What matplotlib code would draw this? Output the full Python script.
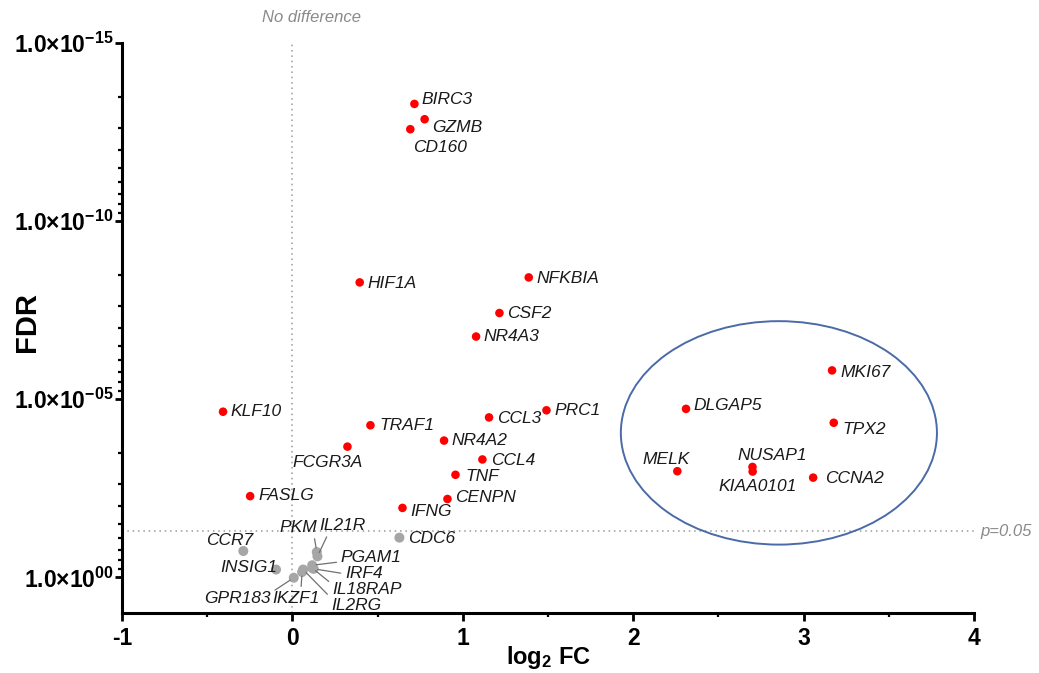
import matplotlib

matplotlib.use("Agg")
import matplotlib.pyplot as plt
import matplotlib.transforms as mtransforms
import numpy as np
from matplotlib.patches import Ellipse
from matplotlib.ticker import FixedLocator, NullFormatter

plt.rcParams["font.family"] = ["Liberation Sans", "DejaVu Sans"]
plt.rcParams["mathtext.fontset"] = "custom"
plt.rcParams["mathtext.rm"] = "Liberation Sans"
plt.rcParams["mathtext.it"] = "Liberation Sans:italic"
plt.rcParams["mathtext.bf"] = "Liberation Sans:bold"

# significant genes (red)
sig_genes = [
    "BIRC3", "GZMB", "CD160", "HIF1A", "NFKBIA", "CSF2", "NR4A3", "KLF10",
    "TRAF1", "CCL3", "PRC1", "NR4A2", "FCGR3A", "CCL4", "TNF", "CENPN",
    "IFNG", "FASLG", "DLGAP5", "MKI67", "TPX2", "MELK", "NUSAP1",
    "KIAA0101", "CCNA2",
]
sig_log2fc = [
    0.716, 0.776, 0.692, 0.395, 1.387, 1.215, 1.078, -0.407,
    0.458, 1.154, 1.491, 0.890, 0.323, 1.115, 0.957, 0.910,
    0.646, -0.248, 2.310, 3.167, 3.177, 2.259, 2.700,
    2.701, 3.056,
]
sig_log10_fdr = [
    -13.29, -12.86, -12.58, -8.28, -8.42, -7.42, -6.76, -4.65,
    -4.27, -4.49, -4.69, -3.84, -3.67, -3.31, -2.88, -2.20,
    -1.95, -2.28, -4.73, -5.81, -4.34, -2.98, -3.10,
    -2.97, -2.80,
]

# non-significant genes (grey)
ns_genes = [
    "CDC6", "CCR7", "INSIG1", "PKM", "IL21R", "PGAM1", "IRF4",
    "IL18RAP", "IL2RG", "IKZF1", "GPR183",
]
ns_log2fc = [0.628, -0.288, -0.096, 0.143, 0.147, 0.116, 0.125, 0.117, 0.063, 0.057, 0.008]
ns_log10_fdr = [-1.115, -0.74, -0.22, -0.71, -0.59, -0.34, -0.24, -0.26, -0.22, -0.15, 0.01]

fdr_cutoff = 0.05

# label placement: (dx, dy) in pixels (y down), horizontal alignment
label_pos = {
    "BIRC3": (7, -4, "left"), "GZMB": (8, 8, "left"), "CD160": (3, 18, "left"),
    "HIF1A": (8, 1, "left"), "NFKBIA": (8, 1, "left"), "CSF2": (8, 0, "left"),
    "NR4A3": (7, 0, "left"), "KLF10": (7, 0, "left"), "TRAF1": (9, 0, "left"),
    "CCL3": (8, 1, "left"), "PRC1": (8, 0, "left"), "NR4A2": (7, 0, "left"),
    "FCGR3A": (-20, 16, "center"), "CCL4": (9, 1, "left"), "TNF": (10, 2, "left"),
    "CENPN": (8, -1, "left"), "IFNG": (8, 4, "left"), "FASLG": (8, -1, "left"),
    "DLGAP5": (7, -3, "left"), "MKI67": (8, 2, "left"), "TPX2": (9, 7, "left"),
    "MELK": (-11, -12, "center"), "NUSAP1": (20, -11, "center"),
    "KIAA0101": (5, 15, "center"), "CCNA2": (12, 1, "left"),
    "CDC6": (9, 1, "left"), "CCR7": (-14, -11, "center"), "INSIG1": (1, -2, "right"),
    "PKM": (-18, -25, "center"), "IL21R": (25, -31, "center"),
    "PGAM1": (59, -8, "center"), "IRF4": (50, 5, "center"),
    "IL18RAP": (55, 21, "center"), "IL2RG": (53, 36, "center"),
    "IKZF1": (-6, 26, "center"), "GPR183": (-56, 21, "center"),
}
leader_relpos = {
    "PKM": (0.9, 0.0), "IL21R": (0.2, 0.0), "PGAM1": (0.0, 0.2),
    "IRF4": (0.0, 0.5), "IL18RAP": (0.0, 0.8), "IL2RG": (0.0, 1.0),
    "IKZF1": (0.6, 1.0), "GPR183": (1.0, 0.9),
}

fig = plt.figure(figsize=(10.39, 6.73), dpi=100)
ax = fig.add_axes([122 / 1039, 1 - 613 / 673, (974 - 122) / 1039, (613 - 43) / 673])

sig_fdr = 10 ** np.asarray(sig_log10_fdr)
ns_fdr = 10 ** np.asarray(ns_log10_fdr)

ax.axvline(0, color="#9a9a9a", lw=1.1, ls=(0, (1, 2.5)), zorder=1)
ax.axhline(fdr_cutoff, color="#9a9a9a", lw=1.1, ls=(0, (1, 2.5)), zorder=1)

ax.scatter(ns_log2fc, ns_fdr, s=52, color="#a6a6a6", edgecolors="none", zorder=3)
ax.scatter(sig_log2fc, sig_fdr, s=38, color="#ff0000", edgecolors="none", zorder=3)

genes = sig_genes + ns_genes
xs = list(sig_log2fc) + list(ns_log2fc)
ys = list(sig_fdr) + list(ns_fdr)
for gene, x, y in zip(genes, xs, ys):
    dx, dy, ha = label_pos[gene]
    kw = {}
    if gene in leader_relpos:
        kw["arrowprops"] = dict(
            arrowstyle="-", color="#707070", lw=0.9,
            shrinkA=1, shrinkB=3, relpos=leader_relpos[gene],
        )
    ax.annotate(
        gene, (x, y), xytext=(dx, -dy), textcoords="offset pixels",
        ha=ha, va="center", fontsize=12.5, style="italic", color="#1a1a1a",
        zorder=4, **kw,
    )

ax.add_patch(Ellipse((0.771, 0.316), 0.371, 0.392, transform=ax.transAxes,
                     fill=False, edgecolor="#4a6aa8", lw=1.4, zorder=2))

ax.set_yscale("log")
ax.set_xlim(-1, 4)
ax.set_ylim(10.0, 1e-15)

major_y = [1e-15, 1e-10, 1e-5, 1e0]
ax.yaxis.set_major_locator(FixedLocator(major_y))
ax.set_yticklabels([
    "1.0×10$^{\\mathbf{-15}}$", "1.0×10$^{\\mathbf{-10}}$",
    "1.0×10$^{\\mathbf{-05}}$", "1.0×10$^{\\mathbf{00}}$",
])
minor_y = [10 ** (base + 5 * np.log10(k)) for base in (-15, -10, -5) for k in range(2, 10)]
ax.yaxis.set_minor_locator(FixedLocator(minor_y))
ax.yaxis.set_minor_formatter(NullFormatter())

ax.set_xticks([-1, 0, 1, 2, 3, 4])
ax.set_xticklabels(["-1", "0", "1", "2", "3", "4"])
ax.xaxis.set_minor_locator(FixedLocator([-0.5, 0.5, 1.5, 2.5, 3.5]))

for label in ax.get_xticklabels() + ax.get_yticklabels():
    label.set_fontweight("bold")
ax.tick_params(axis="y", which="major", labelsize=16.5, length=5, width=2, pad=1)
ax.tick_params(axis="x", which="major", labelsize=16.5, length=6, width=2, pad=4)
ax.tick_params(which="minor", length=3, width=1.6)

for side in ("top", "right"):
    ax.spines[side].set_visible(False)
for side in ("left", "bottom"):
    ax.spines[side].set_linewidth(2.2)

ax.set_ylabel("FDR", fontsize=21, fontweight="bold", va="center")
ax.yaxis.set_label_coords(-0.111, 0.51)
ax.set_xlabel(r"log$_{\mathbf{2}}$ FC", fontsize=17, fontweight="bold", va="top")
ax.xaxis.set_label_coords(0.5, -0.055)

top_trans = mtransforms.blended_transform_factory(ax.transData, ax.transAxes)
ax.text(0.11, 1.044, "No difference", transform=top_trans,
        fontsize=12, style="italic", color="#8a8a8a", ha="center", va="center")
ax.text(1.008, fdr_cutoff, "p=0.05", transform=ax.get_yaxis_transform(),
        fontsize=12, style="italic", color="#8a8a8a", ha="left", va="center")

fig.savefig("out.png", dpi=100)
